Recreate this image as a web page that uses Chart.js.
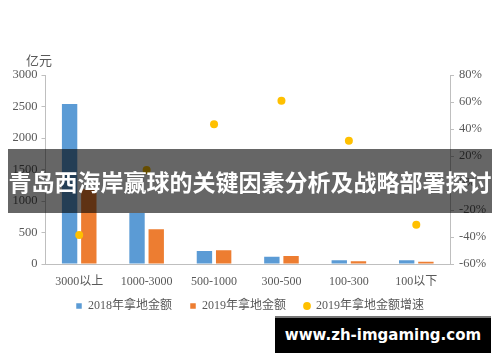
<!DOCTYPE html>
<html>
<head>
<meta charset="utf-8">
<script src="https://cdn.jsdelivr.net/npm/chart.js@4.4.0/dist/chart.umd.min.js"></script>
<style>
  html, body { margin: 0; padding: 0; background: #fff; }
  #wrap { position: relative; width: 500px; height: 362px; overflow: hidden; }
  #c { position: absolute; left: 0; top: 0; }
  #unit { position: absolute; left: 26px; top: 50px; font: 13px "Noto Sans CJK SC", sans-serif; color: #595959; }
  #banner { position: absolute; left: 8px; top: 149px; width: 484px; height: 64px; background: rgba(0,0,0,0.6);
            color: #fff; font: bold 23px "Noto Sans CJK SC", sans-serif; line-height: 64px; text-align: center; white-space: nowrap; }
  #wm { position: absolute; left: 275px; top: 316px; width: 216px; height: 37px; background: #000; border-top: 2px solid #777;
        box-sizing: border-box; color: #fff; font: bold 15px "DejaVu Sans", sans-serif; line-height: 35px; text-align: center; white-space: nowrap; }
</style>
</head>
<body>
<div id="wrap">
  <canvas id="c" width="500" height="362"></canvas>
  <div id="unit">亿元</div>
  <div id="banner">青岛西海岸赢球的关键因素分析及战略部署探讨</div>
  <div id="wm">www.zh-imgaming.com</div>
</div>
<script>
const categories = ['3000以上', '1000-3000', '500-1000', '300-500', '100-300', '100以下'];
const amount2018 = [2540, 810, 205, 116, 59, 59];
const amount2019 = [1185, 550, 218, 128, 43, 37];
const growth2019 = [-38.5, 9.6, 43.5, 61, 31.3, -31];
const seriesNames = ['2018年拿地金额', '2019年拿地金额', '2019年拿地金额增速'];

const fontFam = '"Liberation Serif", "Noto Sans CJK SC", serif';
const txt = '#595959';
const axisCol = '#bfbfbf';

const noLabelClip = {
  id: 'noLabelClip',
  afterLayout(chart) { chart.scales.x._computeLabelArea = () => undefined; }
};

new Chart(document.getElementById('c'), {
  plugins: [noLabelClip],
  data: {
    labels: categories,
    datasets: [
      { type: 'bar', label: seriesNames[0], data: amount2018, backgroundColor: '#5B9BD5', yAxisID: 'y',
        categoryPercentage: 0.57, barPercentage: 0.8, pointStyle: 'rect', order: 1 },
      { type: 'bar', label: seriesNames[1], data: amount2019, backgroundColor: '#ED7D31', yAxisID: 'y',
        categoryPercentage: 0.57, barPercentage: 0.8, pointStyle: 'rect', order: 1 },
      { type: 'line', label: seriesNames[2], data: growth2019, yAxisID: 'y1', showLine: false,
        backgroundColor: '#FFC000', borderColor: '#FFC000', borderWidth: 0, pointBorderWidth: 0,
        pointRadius: 4, pointHoverRadius: 4, pointStyle: 'circle', order: 0 }
    ]
  },
  options: {
    responsive: false,
    animation: false,
    layout: { padding: { left: 0, right: 0, top: 75, bottom: 40 } },
    plugins: {
      tooltip: { enabled: false },
      legend: {
        position: 'bottom',
        labels: {
          usePointStyle: true, boxWidth: 6, boxHeight: 5.5, padding: 18,
          color: txt, font: { family: fontFam, size: 12 },
          sort: (a, b) => a.datasetIndex - b.datasetIndex
        }
      }
    },
    scales: {
      x: {
        grid: { display: false, drawTicks: false },
        border: { display: true, color: axisCol, width: 1 },
        ticks: { color: txt, font: { family: fontFam, size: 12 }, padding: 11, maxRotation: 0 },
        afterFit: s => { s.height = 18; }
      },
      y: {
        position: 'left', min: 0, max: 3000,
        grid: { display: true, drawOnChartArea: false, drawTicks: true, tickLength: 4, color: axisCol },
        border: { display: true, color: axisCol },
        ticks: { stepSize: 500, color: txt, font: { family: fontFam, size: 12.5 }, padding: 4, callback: v => String(v) },
        afterFit: s => { s.width = 45.5; }
      },
      y1: {
        position: 'right', min: -60, max: 80,
        grid: { display: true, drawOnChartArea: false, drawTicks: true, tickLength: 4, color: axisCol },
        border: { display: true, color: axisCol },
        ticks: { stepSize: 20, color: txt, font: { family: fontFam, size: 12.5 }, padding: 5, callback: v => v + '%' },
        afterFit: s => { s.width = 50; }
      }
    }
  }
});
</script>
</body>
</html>
